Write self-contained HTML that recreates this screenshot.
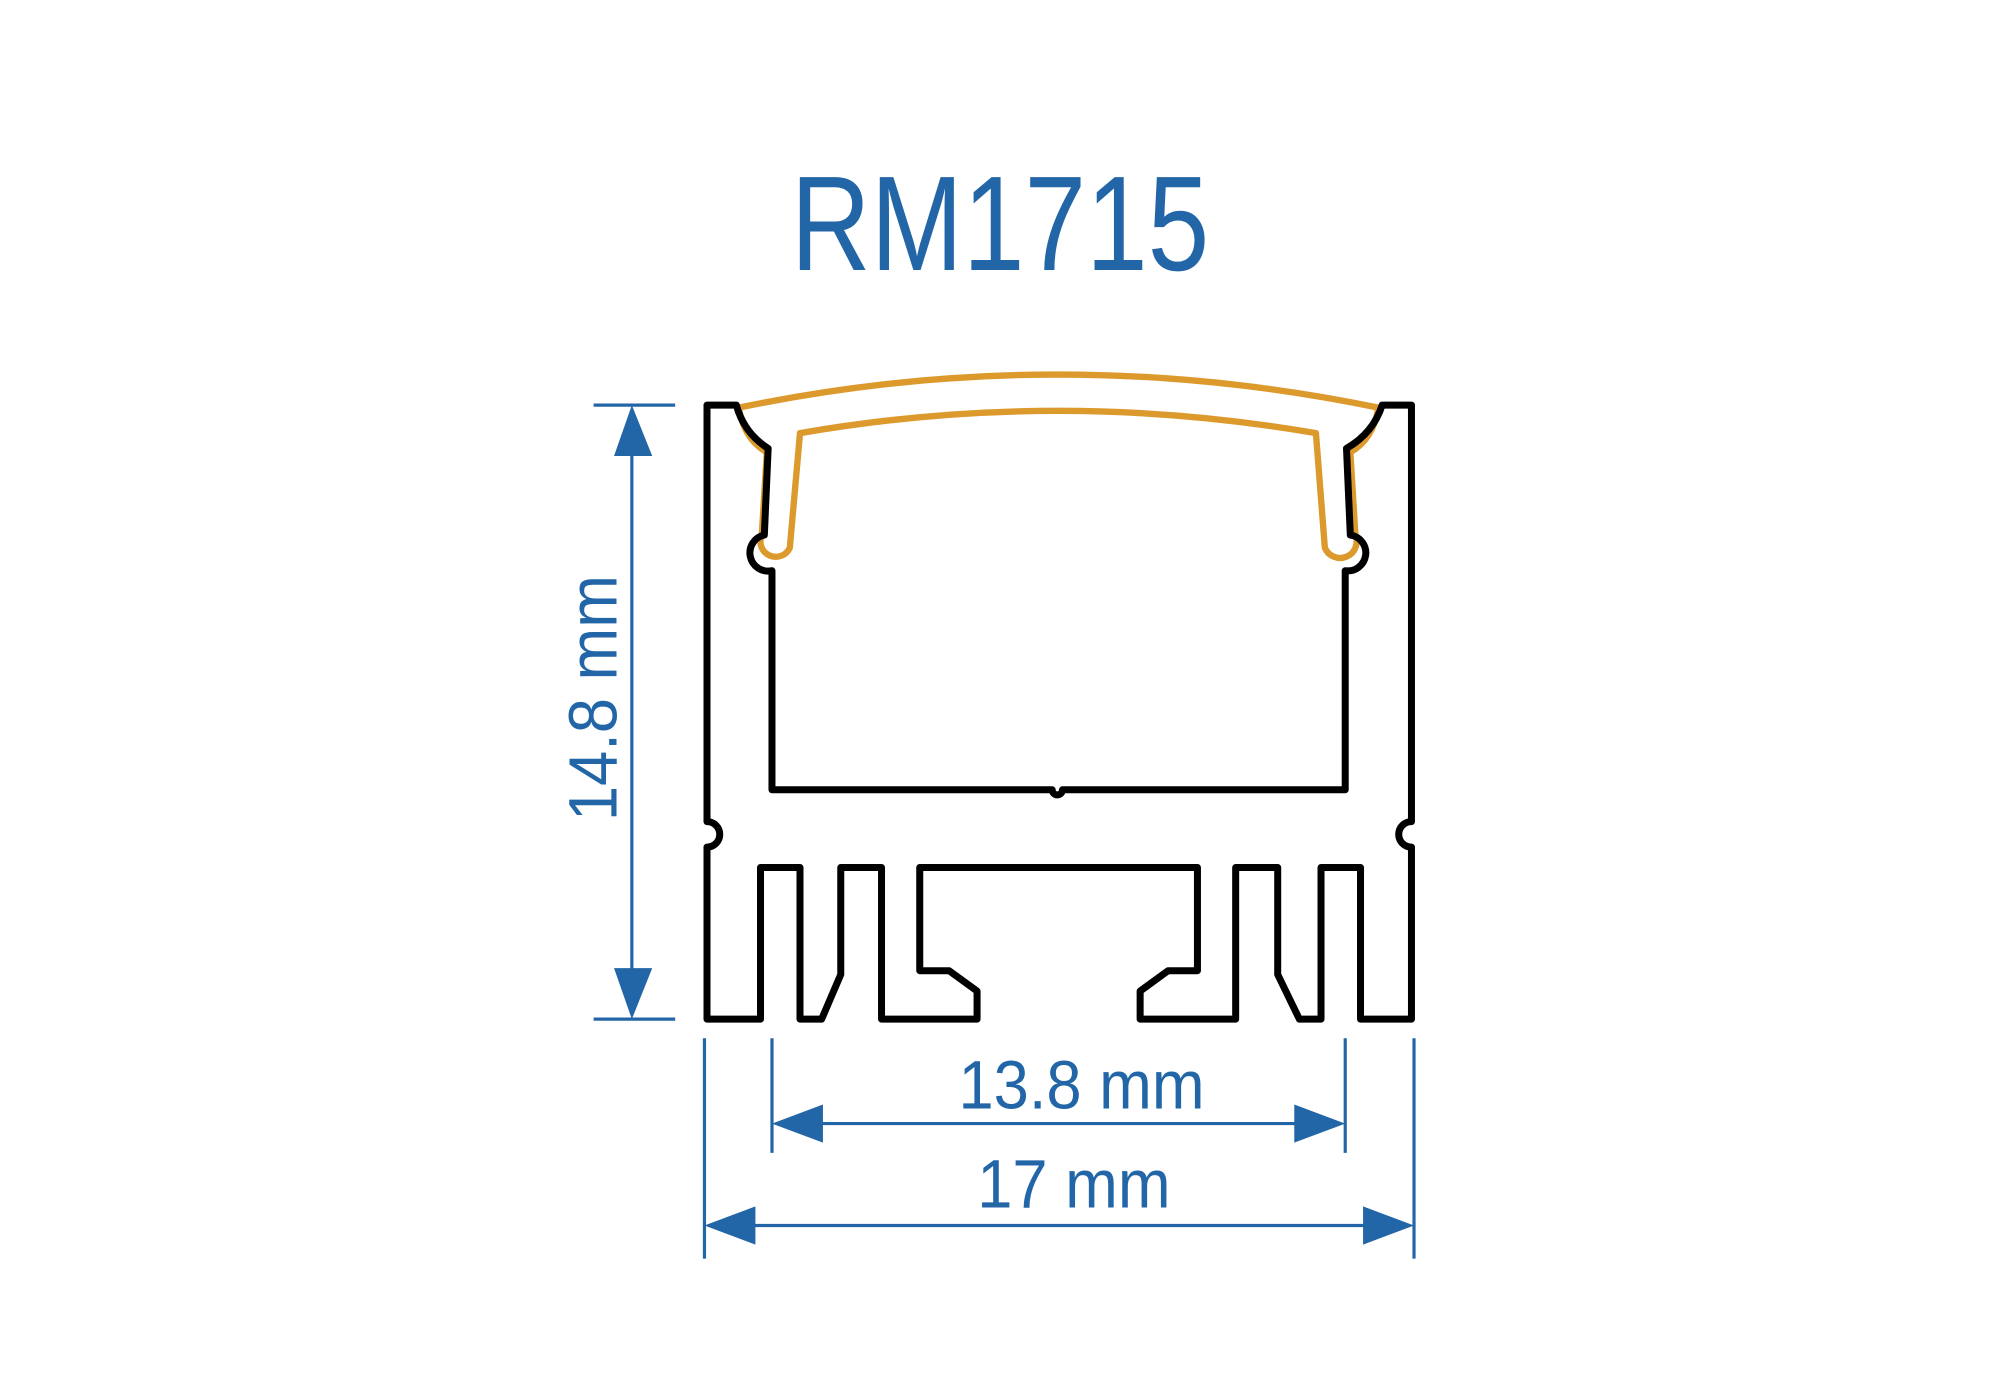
<!DOCTYPE html>
<html><head><meta charset="utf-8"><style>
html,body{margin:0;padding:0;background:#fff;width:2000px;height:1400px;overflow:hidden}
svg{display:block}
text{font-family:"Liberation Sans",sans-serif;fill:#2366a8}
</style></head><body>
<svg width="2000" height="1400" viewBox="0 0 1570 1099" preserveAspectRatio="none" xmlns="http://www.w3.org/2000/svg">
<text x="785" y="212" font-size="106" text-anchor="middle" transform="translate(785 0) scale(0.82 1) translate(-785 0)">RM1715</text>
<!-- cover -->
<path d="M580,320 Q830,268 1082,320 Q1078,345 1060,355 L1064,420 A12,12 0 1,1 1040,430 L1033,340 Q830,305 628,340 L620,430 A12,12 0 1,1 598,420 L602,355 Q584,345 580,320 Z" fill="none" stroke="#dc9a2c" stroke-width="5" stroke-linejoin="round"/>
<!-- profile -->
<path d="M555,318 L578,318 Q584,340 603,352 L600,420 A12,12 0 0,0 606,448 L606,620 L826,620 A4,4 0 0,0 834,620 L1056,620 L1056,448 A12,12 0 0,0 1060,420 L1057,352 Q1078,340 1085,318 L1108,318 L1108,645 A10,10 0 0,0 1108,665 L1108,800 L1068,800 L1068,681 L1037,681 L1037,800 L1020,800 L1003,765 L1003,681 L970,681 L970,800 L895,800 L895,778 L917,762 L940,762 L940,681 L722,681 L722,762 L745,762 L767,778 L767,800 L692,800 L692,681 L660,681 L660,765 L645,800 L628,800 L628,681 L597,681 L597,800 L555,800 L555,665 A10,10 0 0,0 555,645 Z" fill="none" stroke="#000" stroke-width="5.5" stroke-linejoin="round"/>
<!-- dimensions -->
<g stroke="#2366a8" stroke-width="2.5" fill="none">
<line x1="466" y1="318" x2="530" y2="318"/><line x1="466" y1="800" x2="530" y2="800"/>
<line x1="496" y1="340" x2="496" y2="780"/>
<line x1="606" y1="815" x2="606" y2="905"/><line x1="1056" y1="815" x2="1056" y2="905"/>
<line x1="553" y1="815" x2="553" y2="988"/><line x1="1110" y1="815" x2="1110" y2="988"/>
<line x1="630" y1="882" x2="1030" y2="882"/>
<line x1="580" y1="962" x2="1085" y2="962"/>
</g>
<g fill="#2366a8">
<polygon points="496,318 482,358 512,358"/><polygon points="496,800 482,760 512,760"/>
<polygon points="606,882 646,867 646,897"/><polygon points="1056,882 1016,867 1016,897"/>
<polygon points="553,962 593,947 593,977"/><polygon points="1110,962 1070,947 1070,977"/>
</g>
<text x="849" y="870" font-size="54" text-anchor="middle" transform="translate(849 0) scale(0.92 1) translate(-849 0)">13.8 mm</text>
<text x="843" y="948" font-size="54" text-anchor="middle" transform="translate(843 0) scale(0.92 1) translate(-843 0)">17 mm</text>
<text x="0" y="0" font-size="54" text-anchor="middle" transform="translate(484 548) rotate(-90) scale(0.92 1)">14.8 mm</text>
</svg>
</body></html>
